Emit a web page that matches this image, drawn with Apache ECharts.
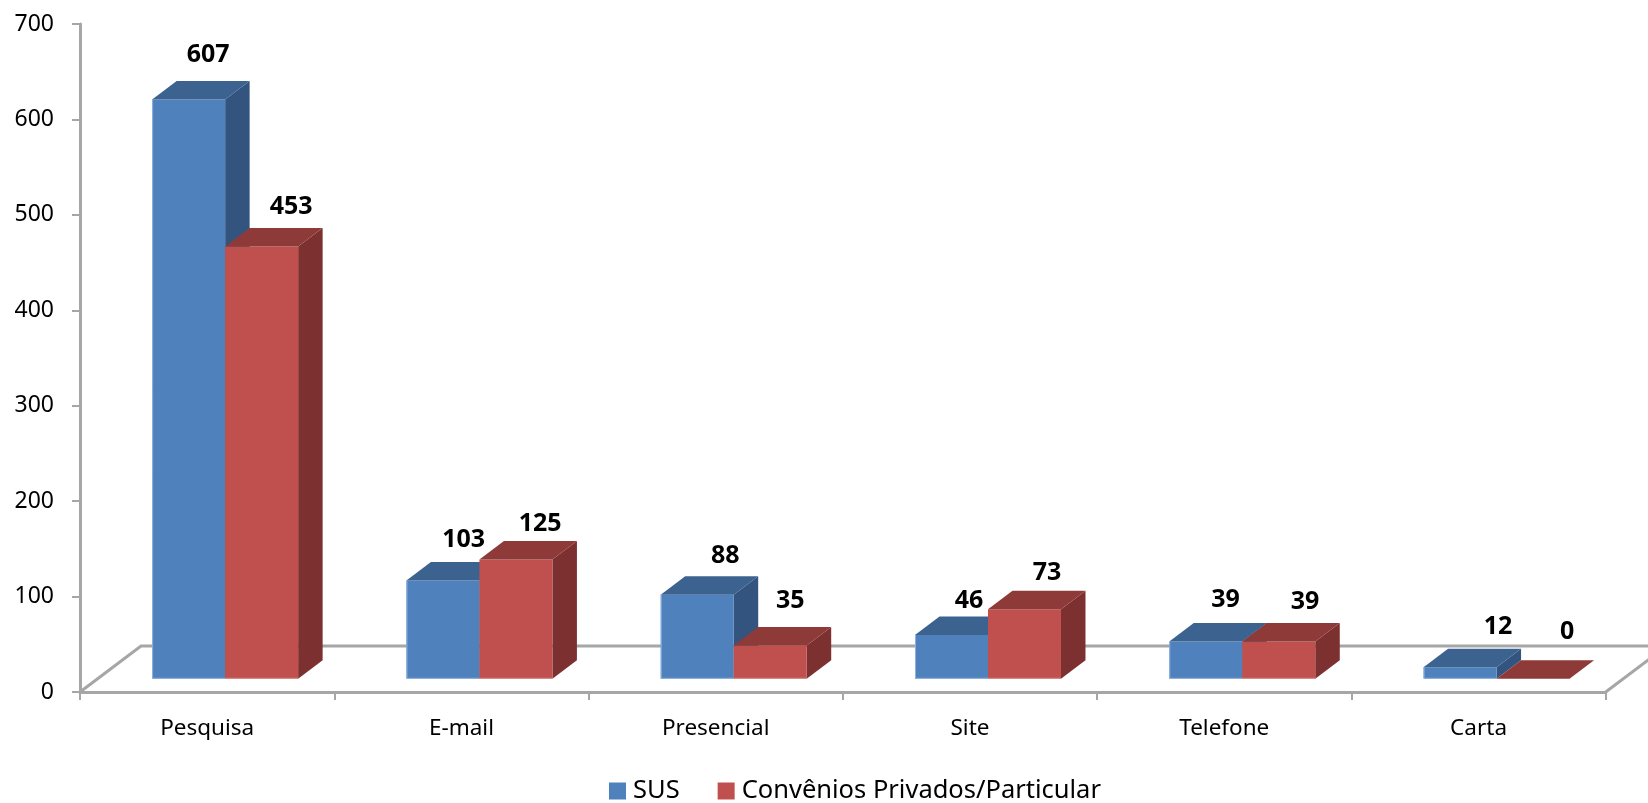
<!DOCTYPE html>
<html>
<head>
<meta charset="utf-8">
<style>html,body{margin:0;padding:0;background:#fff}#c{width:1648px;height:803px}</style>
<script src="https://cdn.jsdelivr.net/npm/echarts@6/dist/echarts.min.js"></script>
</head>
<body>
<div id="c"></div>
<script>
const categories = ['Pesquisa', 'E-mail', 'Presencial', 'Site', 'Telefone', 'Carta'];
const sus = [607, 103, 88, 46, 39, 12];
const privados = [453, 125, 35, 73, 39, 0];
const seriesNames = ['SUS', 'Convênios Privados/Particular'];
const yTicks = { min: 0, max: 700, interval: 100 };

// drawing style: pseudo-3D projection and hand-placed label offsets
const FONT = '"Noto Sans", sans-serif';
const DEPTH_X = 24.5, DEPTH_Y = 18.5;
const FLOOR_X = 61, FLOOR_Y = 46;
const LIFT = 13.2, SHIFT = 18, BAR_RATIO = 73 / 254.3;
const GRAY = '#a6a6a6';
const palette = [
  { front: '#4f81bd', top: '#3c6290', side: '#32547e', edge: '#8fb3e0' },
  { front: '#c0504d', top: '#8e3a38', side: '#7c3130', edge: '#d98c8a' }
];
const labelOffsets = [
  [[19.5, -44.6], [20.7, -41], [28, -39], [17.6, -34], [19.8, -42], [38, -40]],
  [[29.5, -40], [24.2, -36], [20, -45], [22.6, -36.7], [26.3, -40], [34, -47]]
];

function barItem(si) {
  return function (params, api) {
    const i = api.value(0), v = api.value(1);
    const p0 = api.coord([i, 0]), p1 = api.coord([i, v]);
    const band = api.size([1, 0])[0];
    const w = band * BAR_RATIO;
    const x = p0[0] + SHIFT + (si - 1) * w;
    const yb = p0[1] - LIFT, yt = p1[1] - LIFT;
    const c = palette[si];
    const off = labelOffsets[si][i];
    const children = [];
    if (v > 0) {
      children.push({ type: 'polygon', shape: { points: [[x + w, yt], [x + w + DEPTH_X, yt - DEPTH_Y], [x + w + DEPTH_X, yb - DEPTH_Y], [x + w, yb]] }, style: { fill: c.side } });
      children.push({ type: 'rect', shape: { x: x, y: yt, width: w, height: yb - yt }, style: { fill: c.front } });
      const edge = si === 0 ? [[x + 0.5, yt], [x + 0.5, yb - 0.5], [x + w, yb - 0.5]] : [[x, yb - 0.5], [x + w, yb - 0.5]];
      children.push({ type: 'polyline', shape: { points: edge }, style: { stroke: c.edge, lineWidth: 1, fill: 'none' } });
    }
    children.push({ type: 'polygon', shape: { points: [[x, yt], [x + w, yt], [x + w + DEPTH_X, yt - DEPTH_Y], [x + DEPTH_X, yt - DEPTH_Y]] }, style: { fill: c.top } });
    children.push({ type: 'text', style: { x: x + w / 2 + off[0], y: yt + off[1], text: String(v), fill: '#000', font: 'bold 25px ' + FONT, textAlign: 'center', textVerticalAlign: 'middle' } });
    return { type: 'group', children: children };
  };
}

function floorItem(params) {
  const cs = params.coordSys;
  const x0 = cs.x, x1 = cs.x + cs.width, y = cs.y + cs.height;
  const st = { stroke: GRAY, lineWidth: 3, fill: 'none' };
  return { type: 'group', children: [
    { type: 'polyline', shape: { points: [[x0, y], [x0 + FLOOR_X, y - FLOOR_Y], [x1 + FLOOR_X, y - FLOOR_Y]] }, style: st },
    { type: 'line', shape: { x1: x1, y1: y, x2: x1 + FLOOR_X, y2: y - FLOOR_Y }, style: st }
  ] };
}

const chart = echarts.init(document.getElementById('c'), null, { renderer: 'canvas' });
const axisStyle = { show: true, lineStyle: { color: GRAY, width: 3 } };
chart.setOption({
  animation: false,
  backgroundColor: '#fff',
  textStyle: { fontFamily: FONT },
  grid: { left: 80, right: 42.3, top: 24, height: 668, containLabel: false },
  legend: {
    data: seriesNames.map((n, i) => ({ name: n, icon: 'rect', itemStyle: { color: palette[i].front } })),
    left: 609, top: 778, itemWidth: 17, itemHeight: 17, itemGap: 38,
    selectedMode: false, padding: 0,
    textStyle: { fontFamily: FONT, fontSize: 25.5, color: '#000', padding: [0, 0, 0, 2] }
  },
  xAxis: {
    type: 'category', data: categories,
    axisLine: axisStyle,
    axisTick: { show: true, length: 8, alignWithLabel: false, lineStyle: { color: GRAY, width: 2 } },
    axisLabel: { interval: 0, margin: 25, fontSize: 22.5, color: '#000', fontFamily: FONT }
  },
  yAxis: {
    type: 'value', min: yTicks.min, max: yTicks.max, interval: yTicks.interval,
    axisLine: axisStyle,
    axisTick: { show: true, length: 8, lineStyle: { color: GRAY, width: 2 } },
    splitLine: { show: false },
    axisLabel: { margin: 26, fontSize: 23, color: '#000', fontFamily: FONT }
  },
  series: [
    { type: 'custom', name: 'floor', silent: true, z: 1, renderItem: floorItem, data: [[0, 0]], encode: { x: 0, y: 1 } },
    { type: 'custom', name: seriesNames[0], z: 2, renderItem: barItem(0), data: sus.map((v, i) => [i, v]), encode: { x: 0, y: 1 } },
    { type: 'custom', name: seriesNames[1], z: 3, renderItem: barItem(1), data: privados.map((v, i) => [i, v]), encode: { x: 0, y: 1 } }
  ]
});
</script>
</body>
</html>
